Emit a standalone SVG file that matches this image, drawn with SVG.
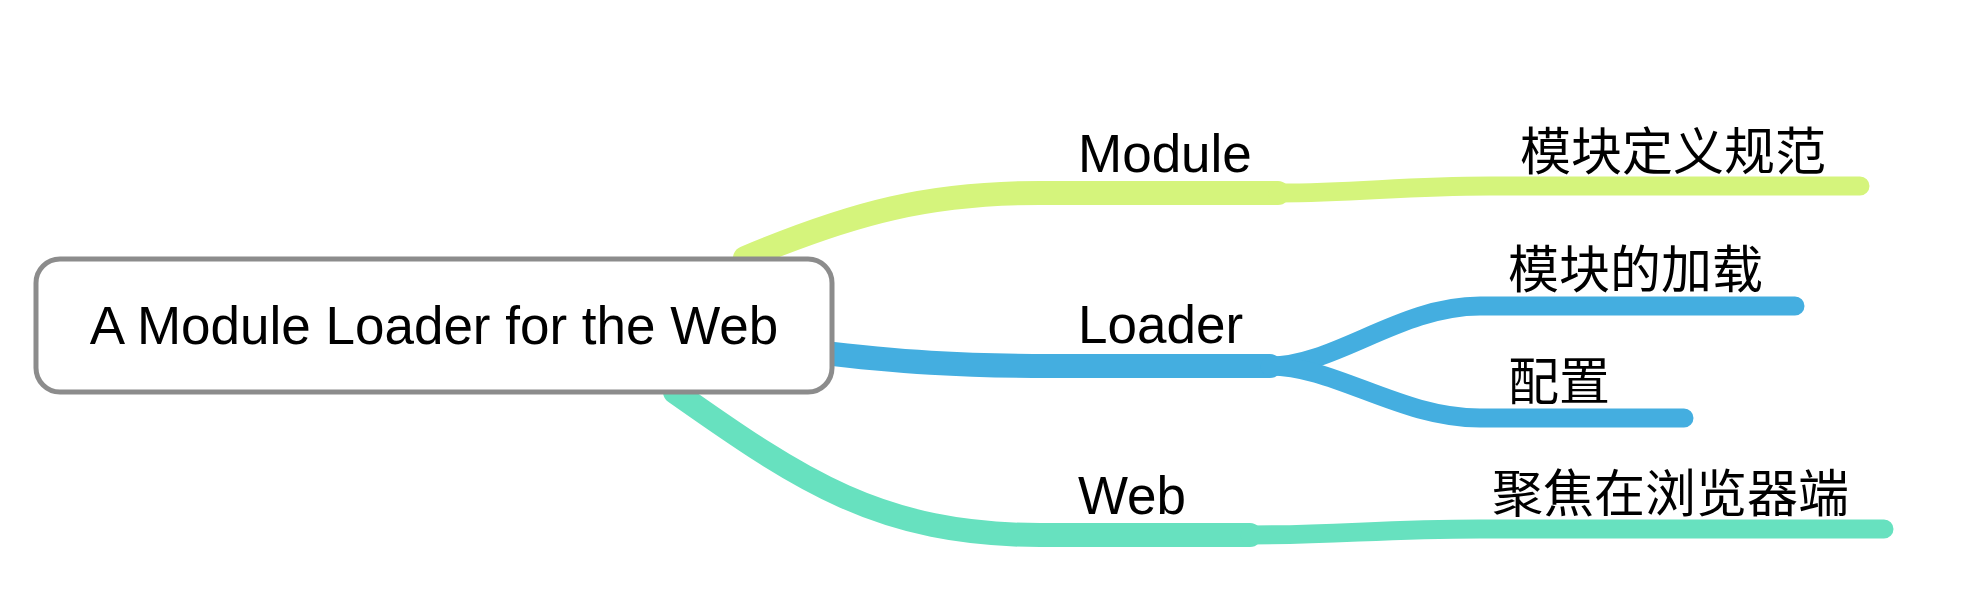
<svg xmlns="http://www.w3.org/2000/svg" width="1974" height="614" viewBox="0 0 1974 614">
<style>
.br{fill:none;stroke-linecap:round;stroke-linejoin:round}
.g{stroke:#d5f47c}
.b{stroke:#44aee0}
.t{stroke:#67e1bf}
.lat{font-family:"Liberation Sans",Arial,sans-serif;font-size:53px;fill:#000}
.cjk{font-family:"Liberation Sans","Noto Sans CJK SC",sans-serif;font-size:51px;fill:#000}
</style>
<rect width="1974" height="614" fill="#ffffff"/>
<g id="connectors">
<path class="br g" stroke-width="24" d="M 745 258 C 855 212, 930 193, 1040 193 L 1278 193"/>
<path class="br g" stroke-width="19" d="M 1278 193 C 1360 193, 1400 186, 1490 186 L 1860 186"/>
<path class="br b" stroke-width="24" d="M 815 352 C 900 362, 960 366, 1050 366 L 1270 366"/>
<path class="br b" stroke-width="19" d="M 1270 366 C 1335 366, 1400 306, 1480 306 L 1795 306"/>
<path class="br b" stroke-width="19" d="M 1270 366 C 1335 366, 1400 418, 1480 418 L 1684 418"/>
<path class="br t" stroke-width="24" d="M 675 392 C 800 480, 880 535, 1040 535 L 1250 535"/>
<path class="br t" stroke-width="19" d="M 1250 535 C 1340 535, 1380 529, 1480 529 L 1884 529"/>
</g>
<g id="root">
<rect x="36" y="259" width="796" height="133" rx="24" ry="24" fill="#ffffff" stroke="#8c8c8c" stroke-width="5"/>
<text class="lat" x="434" y="344" text-anchor="middle">A Module Loader for the Web</text>
</g>
<g id="module"><text class="lat" x="1078" y="172">Module</text></g>
<g id="loader"><text class="lat" x="1078" y="343">Loader</text></g>
<g id="web"><text class="lat" x="1078" y="514">Web</text></g>
<g id="module-def"><text class="cjk" x="1520" y="170">模块定义规范</text></g>
<g id="loader-load"><text class="cjk" x="1508" y="288">模块的加载</text></g>
<g id="loader-config"><text class="cjk" x="1508" y="400">配置</text></g>
<g id="web-browser"><text class="cjk" x="1492" y="512">聚焦在浏览器端</text></g>
</svg>
